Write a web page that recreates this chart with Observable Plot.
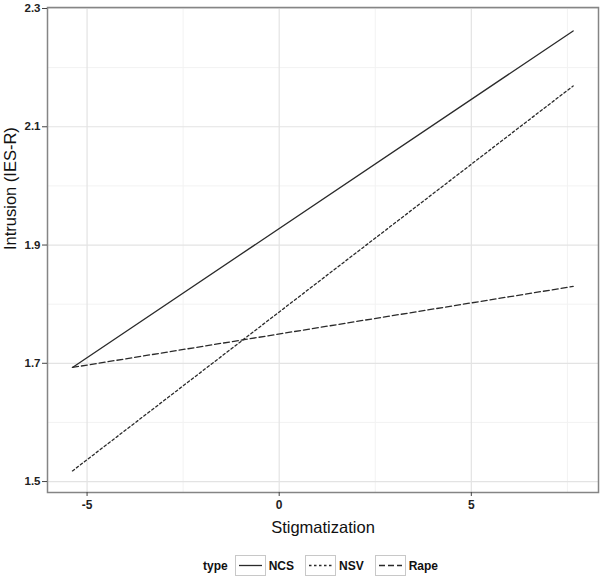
<!DOCTYPE html>
<html>
<head>
<meta charset="utf-8">
<script src="https://cdn.jsdelivr.net/npm/d3@7"></script>
<script src="https://cdn.jsdelivr.net/npm/@observablehq/plot@0.6"></script>
<style>
  body { margin: 0; background: #fff; }
  #legend { width: 600px; height: 48px; box-sizing: border-box; padding-left: 45px; padding-top: 3px;
    display: flex; justify-content: center; align-items: center;
    font-family: "Liberation Sans", Arial, sans-serif; font-weight: bold; font-size: 12px; color: #111; }
  .key { width: 29px; height: 19px; border: 1px solid #c8c8c8; margin: 0 3px 0 7px; display: block; }
  .lab { margin-right: 4px; }
</style>
</head>
<body>
<div id="chart"></div>
<div id="legend"></div>
<script>
// Data
const types = ["NCS", "NSV", "Rape"];
const xStart = -5.38;
const xEnd = 7.65;
const startValues = [1.693, 1.518, 1.693];
const endValues = [2.262, 2.169, 1.830];
const dashes = {NCS: null, NSV: "2.5,2.5", Rape: "6,3"};
const xTicks = [-5, 0, 5];
const xMinor = [-2.5, 2.5, 7.5];
const yTicks = [1.5, 1.7, 1.9, 2.1, 2.3];
const yMinor = [1.6, 1.8, 2.0, 2.2];

const rows = [];
types.forEach((t, i) => {
  rows.push({type: t, x: xStart, y: startValues[i]});
  rows.push({type: t, x: xEnd, y: endValues[i]});
});

const lineMarks = types.map(t => Plot.line(rows.filter(d => d.type === t), {
  x: "x", y: "y", stroke: "#2a2a2a", strokeWidth: 1.3,
  strokeDasharray: dashes[t] || undefined
}));

const plot = Plot.plot({
  width: 600,
  height: 540,
  marginLeft: 47,
  marginRight: 2,
  marginTop: 7,
  marginBottom: 48,
  style: {fontFamily: "Liberation Sans, Arial, sans-serif", fontSize: "12px", background: "#fff"},
  x: {domain: [-6.03, 8.31]},
  y: {domain: [1.4815, 2.3017]},
  marks: [
    Plot.gridX(xMinor, {stroke: "#f2f2f2", strokeOpacity: 1, strokeWidth: 1}),
    Plot.gridY(yMinor, {stroke: "#f2f2f2", strokeOpacity: 1, strokeWidth: 1}),
    Plot.gridX(xTicks, {stroke: "#e3e3e3", strokeOpacity: 1, strokeWidth: 1.2}),
    Plot.gridY(yTicks, {stroke: "#e3e3e3", strokeOpacity: 1, strokeWidth: 1.2}),
    ...lineMarks,
    Plot.frame({stroke: "#858585", strokeWidth: 1.5}),
    Plot.axisY(yTicks, {tickFormat: d3.format(".1f"), tickSize: 5, tickPadding: 2, label: null,
      fontWeight: "bold", fontSize: 11.5, color: "#222", stroke: "#444"}),
    Plot.axisX(xTicks, {tickFormat: d => d, tickSize: 4, tickPadding: 4, label: null,
      fontWeight: "bold", fontSize: 12, color: "#222", stroke: "#444"}),
    Plot.text(["Stigmatization"], {frameAnchor: "bottom", dy: 40, text: d => d,
      fontSize: 16.5, fill: "#111"}),
    Plot.text(["Intrusion (IES-R)"], {frameAnchor: "left", dx: -37, rotate: -90, text: d => d,
      fontSize: 16.5, fill: "#111"})
  ]
});
document.getElementById("chart").appendChild(plot);

// Legend
const legend = document.getElementById("legend");
const title = document.createElement("span");
title.textContent = "type";
legend.appendChild(title);
types.forEach(t => {
  const ns = "http://www.w3.org/2000/svg";
  const svg = document.createElementNS(ns, "svg");
  svg.setAttribute("class", "key");
  svg.setAttribute("width", 29);
  svg.setAttribute("height", 19);
  const ln = document.createElementNS(ns, "line");
  ln.setAttribute("x1", 3); ln.setAttribute("x2", 26);
  ln.setAttribute("y1", 9.5); ln.setAttribute("y2", 9.5);
  ln.setAttribute("stroke", "#2a2a2a");
  ln.setAttribute("stroke-width", 1.3);
  if (dashes[t]) ln.setAttribute("stroke-dasharray", dashes[t]);
  svg.appendChild(ln);
  legend.appendChild(svg);
  const lab = document.createElement("span");
  lab.className = "lab";
  lab.textContent = t;
  legend.appendChild(lab);
});
</script>
</body>
</html>
